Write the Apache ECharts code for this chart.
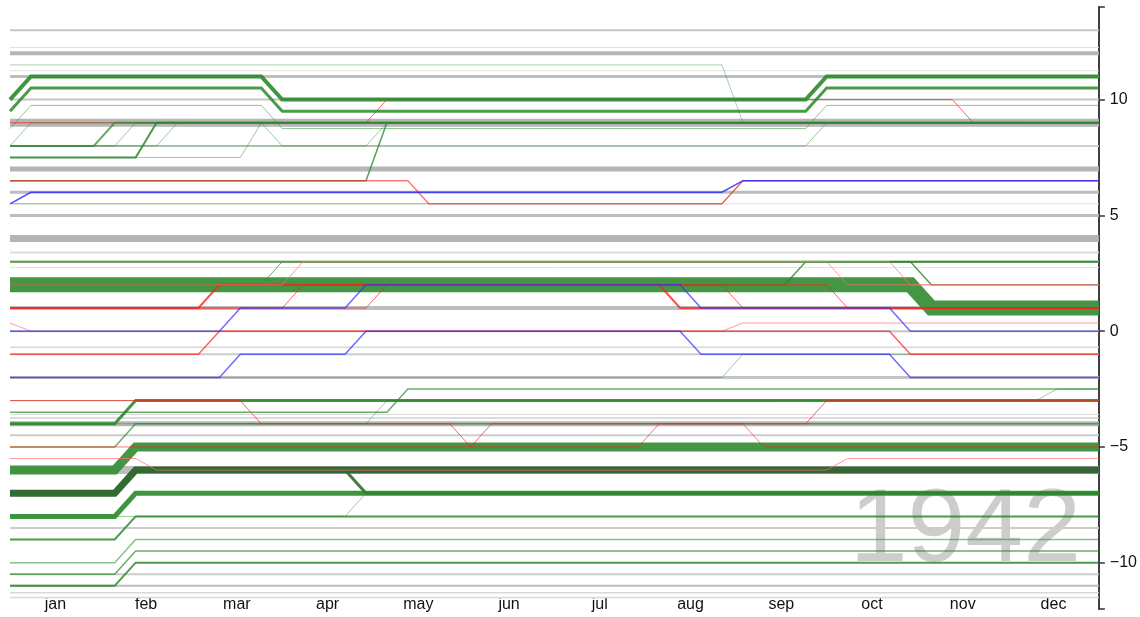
<!DOCTYPE html>
<html>
<head>
<meta charset="utf-8">
<script src="https://cdn.jsdelivr.net/npm/echarts@6/dist/echarts.min.js"></script>
<style>
  html, body { margin: 0; padding: 0; background: #fff; }
  #chart { width: 1140px; height: 617px; }
</style>
</head>
<body>
<div id="chart"></div>
<script>
// weeks 0..52 on x, rank offset on y
const months = ['jan', 'feb', 'mar', 'apr', 'may', 'jun', 'jul', 'aug', 'sep', 'oct', 'nov', 'dec'];
const yearLabel = '1942';

// flat grey lines (value held all year)
const grayLevels = [13, 12.25, 12, 11.25, 11, 10, 9, 8, 7, 6, 5.5, 5, 4, 3.4, 3, 2.75, 1, 0,
  -0.7, -1, -2, -3.6, -3.75, -4, -4.5, -6, -8.5, -10.5, -11, -11.3, -11.5];

// green lines, [week, value]
const gTop1 = [[0, 10], [1, 11], [12, 11], [13, 10], [38, 10], [39, 11], [52, 11]];
const gTop2 = [[0, 9.5], [1, 10.5], [12, 10.5], [13, 9.5], [38, 9.5], [39, 10.5], [52, 10.5]];
const gTop3 = [[0, 8.75], [1, 9.75], [12, 9.75], [13, 8.75], [38, 8.75], [39, 9.75], [52, 9.75]];
const gTop4 = [[0, 11.5], [34, 11.5], [35, 9], [52, 9]];
const gNineA = [[0, 7.5], [6, 7.5], [7, 9], [52, 9]];
const gNineB = [[0, 8], [4, 8], [5, 9], [52, 9]];
const gNineC = [[0, 7.5], [11, 7.5], [12, 9], [52, 9]];
const gNineD = [[0, 8], [5, 8], [6, 9], [52, 9]];
const gNineE = [[0, 8], [7, 8], [8, 9], [52, 9]];
const gNineF = [[0, 8], [1, 9], [12, 9], [13, 8], [38, 8], [39, 9], [52, 9]];
const gNineG = [[0, 8], [17, 8], [18, 9], [52, 9]];
const gNineH = [[0, 6.5], [17, 6.5], [18, 9], [52, 9]];
const gSix = [[0, 5.5], [34, 5.5], [35, 6.5], [52, 6.5]];
const gThree = [[0, 3], [52, 3]];
const gThreeA = [[0, 2], [12, 2], [13, 3], [52, 3]];
const gThreeB = [[0, 2], [37, 2], [38, 3], [43, 3], [44, 2], [52, 2]];
const gBand = [[0, 2], [43, 2], [44, 1], [52, 1]];
const gM1 = [[0, -2], [34, -2], [35, -1], [52, -1]];
const gM25 = [[0, -3.5], [18, -3.5], [19, -2.5], [52, -2.5]];
const gM25b = [[0, -3], [49, -3], [50, -2.5], [52, -2.5]];
const gM3 = [[0, -4], [5, -4], [6, -3], [52, -3]];
const gM3b = [[0, -4], [17, -4], [18, -3], [52, -3]];
const gM4 = [[0, -5], [5, -5], [6, -4], [52, -4]];
const gM5 = [[0, -6], [5, -6], [6, -5], [52, -5]];
const gM6 = [[0, -7], [5, -7], [6, -6], [52, -6]];
const gM6b = [[0, -7], [5, -7], [6, -6], [16, -6], [17, -7], [52, -7]];
const gM7 = [[0, -8], [5, -8], [6, -7], [52, -7]];
const gM7b = [[0, -8], [16, -8], [17, -7], [52, -7]];
const gM8 = [[0, -9], [5, -9], [6, -8], [52, -8]];
const gM9 = [[0, -10], [5, -10], [6, -9], [52, -9]];
const gM95 = [[0, -10.5], [5, -10.5], [6, -9.5], [52, -9.5]];
const gM10 = [[0, -11], [5, -11], [6, -10], [52, -10]];

// red lines
const rTop = [[0, 9], [17, 9], [18, 10], [45, 10], [46, 9], [52, 9]];
const rSix = [[0, 6.5], [19, 6.5], [20, 5.5], [34, 5.5], [35, 6.5], [52, 6.5]];
const rOne = [[0, 1], [9, 1], [10, 2], [31, 2], [32, 1], [52, 1]];
const rOneB = [[0, 1], [13, 1], [14, 2], [34, 2], [35, 1], [52, 1]];
const rTwo = [[0, 2], [13, 2], [14, 3], [39, 3], [40, 2], [52, 2]];
const rOneC = [[0, 1], [17, 1], [18, 2], [39, 2], [40, 1], [52, 1]];
const rThree = [[0, 3], [42, 3], [43, 2], [52, 2]];
const rZero = [[0, 0.35], [1, 0], [34, 0], [35, 0.35], [52, 0.35]];
const rMinus1 = [[0, -1], [9, -1], [10, 0], [42, 0], [43, -1], [52, -1]];
const rMinus3 = [[0, -3], [11, -3], [12, -4], [21, -4], [22, -5], [23, -4], [38, -4], [39, -3], [52, -3]];
const rMinus5 = [[0, -5], [30, -5], [31, -4], [35, -4], [36, -5], [52, -5]];
const rMinus55 = [[0, -5.5], [6, -5.5], [7, -6], [39, -6], [40, -5.5], [52, -5.5]];

// blue lines
const bSix = [[0, 5.5], [1, 6], [34, 6], [35, 6.5], [52, 6.5]];
const bZero = [[0, 0], [10, 0], [11, 1], [16, 1], [17, 2], [32, 2], [33, 1], [42, 1], [43, 0], [52, 0]];
const bMinus2 = [[0, -2], [10, -2], [11, -1], [16, -1], [17, 0], [32, 0], [33, -1], [42, -1], [43, -2], [52, -2]];

const GREEN = '#2b8a2b';
const DGREEN = '#2f5f2f';
const RED = '#ff2020';
const PINK = '#ff7070';
const BLUE = '#2f2fff';

// width / colour per grey level, same order as grayLevels
const grayStyle = [[2, '#c6c6c6'], [1, '#e2e2e2'], [4, '#b5b5b5'], [1, '#e2e2e2'], [3, '#bdbdbd'],
  [2, '#c4c4c4'], [8, '#b5b5b5'], [2, '#d0d0d0'], [5, '#b5b5b5'], [3, '#bdbdbd'], [1, '#e0e0e0'],
  [3, '#bdbdbd'], [7, '#b5b5b5'], [2, '#dedede'], [2, '#d0d0d0'], [1, '#e2e2e2'], [4, '#bdbdbd'],
  [2, '#c4c4c4'], [1.5, '#d8d8d8'], [2, '#cccccc'], [3, '#c4c4c4'], [1, '#dcdcdc'], [1.5, '#d0d0d0'],
  [5, '#b5b5b5'], [2, '#cccccc'], [8, '#bdbdbd'], [2, '#cccccc'], [2, '#cccccc'], [2, '#bdbdbd'],
  [1.5, '#d8d8d8'], [1.5, '#d8d8d8']];

const line = (data, color, width, opacity = 1) => ({
  type: 'line',
  xAxisIndex: 1,
  data,
  symbol: 'none',
  silent: true,
  lineStyle: { color, width, opacity, cap: 'butt', join: 'miter' }
});

const series = [];
grayLevels.forEach((v, i) => {
  series.push(line([[0, v], [52, v]], grayStyle[i][1], grayStyle[i][0]));
});

series.push(
  line(rTop, RED, 1, 0.7),
  line(gBand, '#3a8f3a', 15, 0.95),
  line(gM5, '#3a8f3a', 9, 0.95),
  line(gM6, DGREEN, 7, 0.95),
  line(gM6b, '#2e6e2e', 3, 0.9),
  line(gM7, GREEN, 5, 0.9),
  line(gM7b, GREEN, 1, 0.45),
  line(gM8, GREEN, 2, 0.85),
  line(gM9, GREEN, 1.5, 0.55),
  line(gM95, GREEN, 1.5, 0.7),
  line(gM10, GREEN, 2, 0.85),
  line(gM4, GREEN, 1.5, 0.7),
  line(gM3, GREEN, 3, 0.9),
  line(gM3b, GREEN, 1, 0.45),
  line(gM25, GREEN, 1.5, 0.7),
  line(gM25b, GREEN, 1, 0.45),
  line(gM1, GREEN, 1, 0.45),
  line(gThree, GREEN, 2, 0.9),
  line(gThreeA, GREEN, 1, 0.7),
  line(gThreeB, GREEN, 1.5, 0.8),
  line(gSix, GREEN, 1, 0.5),
  line(gTop1, GREEN, 4, 0.9),
  line(gTop2, GREEN, 3, 0.85),
  line(gTop3, GREEN, 1, 0.5),
  line(gTop4, GREEN, 1, 0.4),
  line(gNineA, GREEN, 2, 0.85),
  line(gNineB, GREEN, 2, 0.7),
  line(gNineC, GREEN, 1, 0.45),
  line(gNineD, GREEN, 1, 0.45),
  line(gNineE, GREEN, 1, 0.45),
  line(gNineF, GREEN, 1, 0.45),
  line(gNineG, GREEN, 1, 0.45),
  line(gNineH, GREEN, 1.5, 0.8),
  line(rSix, RED, 1.5, 0.6),
  line(rOne, RED, 2, 0.8),
  line(rOneB, RED, 1, 0.7),
  line(rTwo, PINK, 1, 0.7),
  line(rOneC, RED, 1, 0.7),
  line(rThree, PINK, 1, 0.7),
  line(rZero, PINK, 1, 0.7),
  line(rMinus1, RED, 1.5, 0.7),
  line(rMinus3, RED, 1, 0.7),
  line(rMinus5, RED, 1, 0.6),
  line(rMinus55, PINK, 1, 0.7),
  line(bSix, BLUE, 1.5, 0.85),
  line(bZero, BLUE, 1.5, 0.7),
  line(bMinus2, BLUE, 1.5, 0.7)
);

const axisInk = { color: '#333', width: 1.5 };

const chart = echarts.init(document.getElementById('chart'));
chart.setOption({
  animation: false,
  backgroundColor: '#fff',
  textStyle: { fontFamily: 'Liberation Sans, Arial, sans-serif' },
  grid: { left: 10, right: 41, top: 7, bottom: 8 },
  xAxis: [
    {
      type: 'category',
      data: months,
      boundaryGap: true,
      axisLine: { show: false },
      axisTick: { show: false },
      splitLine: { show: false },
      axisLabel: { color: '#111', fontSize: 16, margin: -12 }
    },
    {
      type: 'value',
      min: 0,
      max: 52,
      show: false
    }
  ],
  yAxis: [
    {
      type: 'value',
      position: 'right',
      min: -12,
      max: 14,
      splitNumber: 5,
      splitLine: { show: false },
      axisLine: { show: true, onZero: false, lineStyle: axisInk },
      axisTick: { show: true, length: 6, lineStyle: axisInk },
      axisLabel: {
        color: '#111',
        fontSize: 16,
        margin: 11,
        showMinLabel: false,
        showMaxLabel: false,
        formatter: v => (v % 5 === 0 ? (v < 0 ? '\u2212' + (-v) : String(v)) : '')
      }
    },
    {
      // end caps of the axis
      type: 'value',
      position: 'right',
      min: 0,
      max: 26,
      interval: 26,
      splitLine: { show: false },
      axisLine: { show: true, onZero: false, lineStyle: axisInk },
      axisTick: { show: true, length: 6, lineStyle: axisInk },
      axisLabel: { show: false }
    }
  ],
  graphic: [{
    type: 'text',
    z: 0,
    style: {
      x: 1081,
      y: 532,
      text: yearLabel,
      fill: '#cdcdcd',
      font: '104px "Liberation Sans", Arial, sans-serif',
      textAlign: 'right',
      textVerticalAlign: 'middle'
    }
  }],
  series
});
</script>
</body>
</html>
